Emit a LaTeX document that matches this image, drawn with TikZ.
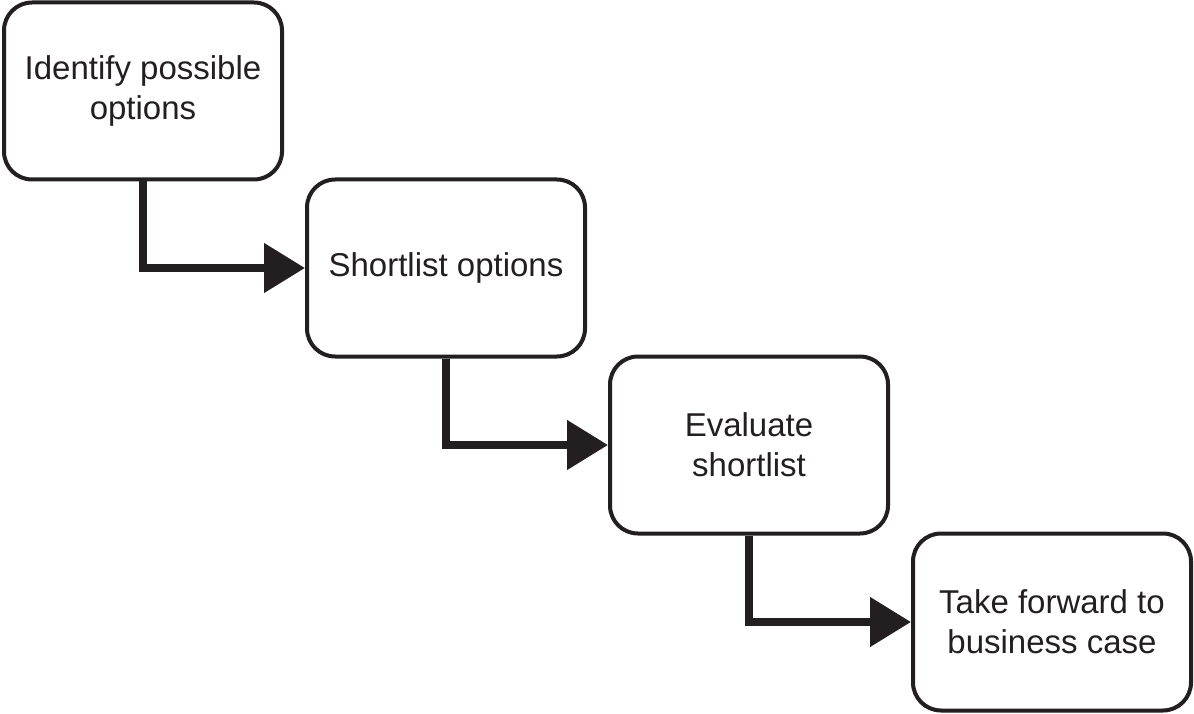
\documentclass[tikz,border=0pt]{standalone}
\usepackage{fontspec}
\setmainfont{Liberation Sans}
\usepackage{tikz}
\usetikzlibrary{arrows.meta,positioning}
\definecolor{Ink}{HTML}{231F20}
\tikzset{
  flow/.style={draw=Ink,line width=4pt,rounded corners=28pt,minimum width=278pt,minimum height=177pt,align=center,fill=white,text=Ink,font=\fontsize{33}{40}\selectfont},
  arrow/.style={-{Triangle[length=41pt,width=48pt]},line width=8pt,draw=Ink,line join=miter}
}
\begin{document}
\begin{tikzpicture}[x=1pt,y=1pt]
\useasboundingbox (0,0) rectangle (1194,-714);
\node[flow] (ident) at (143,-91) {Identify possible\\options};
\node[flow,below right=-4pt and 21pt of ident] (short) {Shortlist options};
\node[flow,below right=-4pt and 21pt of short] (eval) {Evaluate\\shortlist};
\node[flow,below right=-4pt and 21pt of eval] (take) {Take forward to\\business case};
\draw[arrow] (ident.south) |- (short.west);\draw[arrow] (short.south) |- (eval.west);\draw[arrow] (eval.south) |- (take.west);
\end{tikzpicture}
\end{document}
